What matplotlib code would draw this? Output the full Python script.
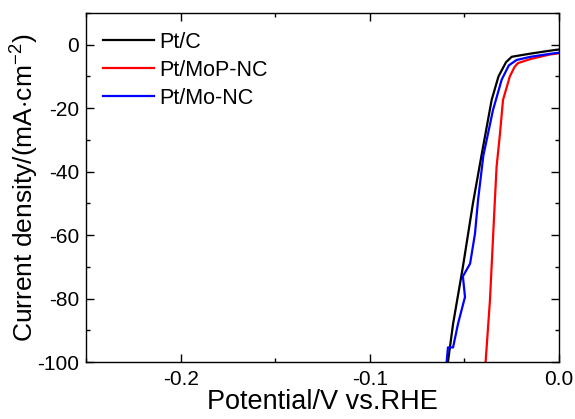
import matplotlib.pyplot as plt
from matplotlib.ticker import MultipleLocator

plt.rcParams["font.family"] = ["Liberation Sans", "DejaVu Sans"]
plt.rcParams["mathtext.fontset"] = "custom"
plt.rcParams["mathtext.rm"] = "Liberation Sans"

# LSV polarisation curves
ptc_v = [-0.0587, -0.056, -0.0508, -0.0455, -0.041, -0.0356, -0.032, -0.028, -0.025, -0.015, -0.005, 0.0]
ptc_j = [-100, -88, -70, -50, -35, -17.4, -10, -5.5, -3.8, -2.8, -1.9, -1.5]

mopnc_v = [-0.0388, -0.0365, -0.0339, -0.033, -0.0312, -0.0296, -0.026, -0.0235, -0.0217, -0.015, -0.005, 0.0]
mopnc_j = [-100, -80.5, -49, -38.5, -28, -17.4, -10, -7.0, -5.8, -4.5, -3.1, -2.7]

monc_v = [-0.0594, -0.0587, -0.056, -0.0534, -0.0497, -0.0508, -0.047, -0.0444, -0.0428, -0.040,
          -0.0349, -0.0303, -0.0265, -0.0224, -0.015, -0.005, 0.0]
monc_j = [-100, -95.4, -95.4, -88, -79.5, -73, -69, -59.5, -49, -35,
          -20.6, -11, -6.5, -4.8, -3.8, -2.9, -2.5]

fig = plt.figure(figsize=(5.75, 4.19), dpi=100)
ax = fig.add_axes([0.1496, 0.136, 0.8226, 0.833])

ax.plot(ptc_v, ptc_j, color="black", lw=1.6, label="Pt/C")
ax.plot(mopnc_v, mopnc_j, color="red", lw=1.6, label="Pt/MoP-NC")
ax.plot(monc_v, monc_j, color="blue", lw=1.6, label="Pt/Mo-NC")

ax.set_xlim(-0.25, 0.0)
ax.set_ylim(-100, 10)
ax.xaxis.set_minor_locator(MultipleLocator(0.05))
ax.yaxis.set_minor_locator(MultipleLocator(10))
ax.set_xticks([-0.2, -0.1, 0.0])
ax.set_xticklabels(["-0.2", "-0.1", "0.0"])
ax.set_yticks([0, -20, -40, -60, -80, -100])
ax.set_yticklabels(["0", "-20", "-40", "-60", "-80", "-100"])

ax.tick_params(which="both", direction="in", top=True, right=True, labelsize=15, width=1)
ax.tick_params(which="major", length=5.5)
ax.tick_params(axis="x", which="major", pad=6)
ax.tick_params(axis="y", which="major", pad=5)
ax.tick_params(which="minor", length=3)
for s in ax.spines.values():
    s.set_linewidth(1)

ax.set_xlabel("Potential/V vs.RHE", fontsize=19.5, labelpad=0)
ax.set_ylabel("Current density/(mA$\\cdot$cm$^{-2}$)", fontsize=19, labelpad=-2)

ax.legend(loc="upper left", frameon=False, fontsize=15.5, handlelength=2.37,
          handletextpad=0.23, labelspacing=0.33, borderaxespad=0.39,
          bbox_to_anchor=(0.0, 0.995))

fig.savefig("out.png", dpi=100)
